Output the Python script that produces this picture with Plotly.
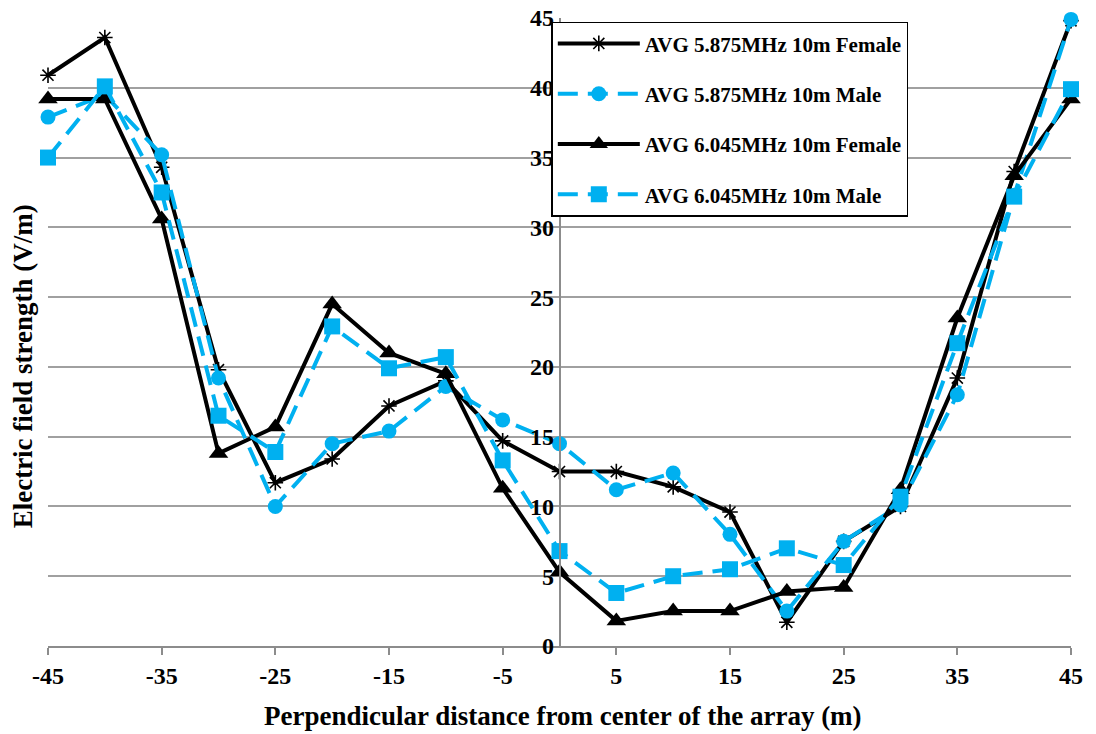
import plotly.graph_objects as go

# Perpendicular distance from the array centre (m)
distance = [-45, -40, -35, -30, -25, -20, -15, -10, -5, 0, 5, 10, 15, 20, 25, 30, 35, 40, 45]

# Average electric field strength (V/m)
f5875_female = [40.9, 43.6, 34.3, 19.8, 11.7, 13.4, 17.2, 19.0, 14.7, 12.5, 12.5, 11.4, 9.6, 1.7, 7.5, 10.0, 19.2, 34.0, 44.8]
f5875_male = [37.9, 39.5, 35.2, 19.2, 10.0, 14.5, 15.4, 18.6, 16.2, 14.5, 11.2, 12.4, 8.0, 2.5, 7.5, 10.1, 18.0, 32.3, 44.9]
f6045_female = [39.2, 39.2, 30.6, 13.8, 15.7, 24.5, 21.0, 19.5, 11.3, 5.3, 1.8, 2.5, 2.5, 3.9, 4.2, 11.2, 23.5, 33.7, 39.2]
f6045_male = [35.0, 40.1, 32.5, 16.5, 13.9, 22.9, 19.9, 20.7, 13.3, 6.8, 3.8, 5.0, 5.5, 7.0, 5.8, 10.7, 21.7, 32.2, 39.9]

x_ticks = [-45, -35, -25, -15, -5, 5, 15, 25, 35, 45]
y_ticks = [0, 5, 10, 15, 20, 25, 30, 35, 40, 45]

BLUE = "#00B0F0"
BLACK = "#000000"
FONT = "Liberation Serif"

series = [
    ("AVG 5.875MHz 10m Female", f5875_female, BLACK, "solid", "asterisk-open", 13),
    ("AVG 5.875MHz 10m Male", f5875_male, BLUE, "dash", "circle", 15),
    ("AVG 6.045MHz 10m Female", f6045_female, BLACK, "solid", "triangle-up", 17),
    ("AVG 6.045MHz 10m Male", f6045_male, BLUE, "dash", "square", 16),
]

fig = go.Figure()
for i, (name, vals, color, dash, symbol, size) in enumerate(series):
    fig.add_trace(go.Scatter(
        x=distance, y=vals, name=name, mode="lines+markers",
        legendgroup=f"g{i}",
        line=dict(color=color, width=4, dash="20px,10px" if dash == "dash" else "solid"),
        marker=dict(symbol=symbol, size=size, color=color,
                    line=dict(color=color, width=1.6 if symbol == "asterisk-open" else 0)),
        cliponaxis=False,
    ))

fig.update_layout(
    width=1096, height=734,
    margin=dict(l=48, r=25, t=18, b=88, autoexpand=False),
    paper_bgcolor="white", plot_bgcolor="white",
    font=dict(family=FONT, color="black", size=24),
    showlegend=True,
    legend=dict(
        x=0.492, y=0.994, xanchor="left", yanchor="top",
        bgcolor="white", bordercolor="black", borderwidth=1.5,
        font=dict(family=FONT, size=21, color="black", weight="bold"),
        tracegroupgap=20, itemwidth=82,
    ),
    xaxis=dict(
        range=[-45, 45], tickvals=x_ticks, ticktext=[str(v) for v in x_ticks],
        showgrid=False, zeroline=False, automargin=False,
        showline=True, linecolor="#8c8c8c", linewidth=1.5,
        ticks="outside", ticklen=7, tickcolor="#8c8c8c", tickwidth=1.5,
        tickfont=dict(family=FONT, size=24, weight="bold"),
    ),
    yaxis=dict(
        range=[0, 45], tickvals=y_ticks, automargin=False,
        anchor="free", position=0.5,
        showgrid=True, gridcolor="#a0a0a0", gridwidth=1.5,
        zeroline=False, showline=True, linecolor="#8c8c8c", linewidth=1.5,
        ticks="", tickfont=dict(family=FONT, size=24, weight="bold"),
    ),
    annotations=[
        dict(text="<b>Perpendicular distance from center of the array (m)</b>",
             xref="paper", yref="paper", x=0.503, y=-0.112,
             xanchor="center", yanchor="middle", showarrow=False,
             font=dict(family=FONT, size=27, color="black")),
        dict(text="<b>Electric field strength (V/m)</b>", textangle=-90,
             xref="paper", yref="paper", x=-0.025, y=0.446,
             xanchor="center", yanchor="middle", showarrow=False,
             font=dict(family=FONT, size=27, color="black")),
    ],
)

fig.write_html("out.html")
